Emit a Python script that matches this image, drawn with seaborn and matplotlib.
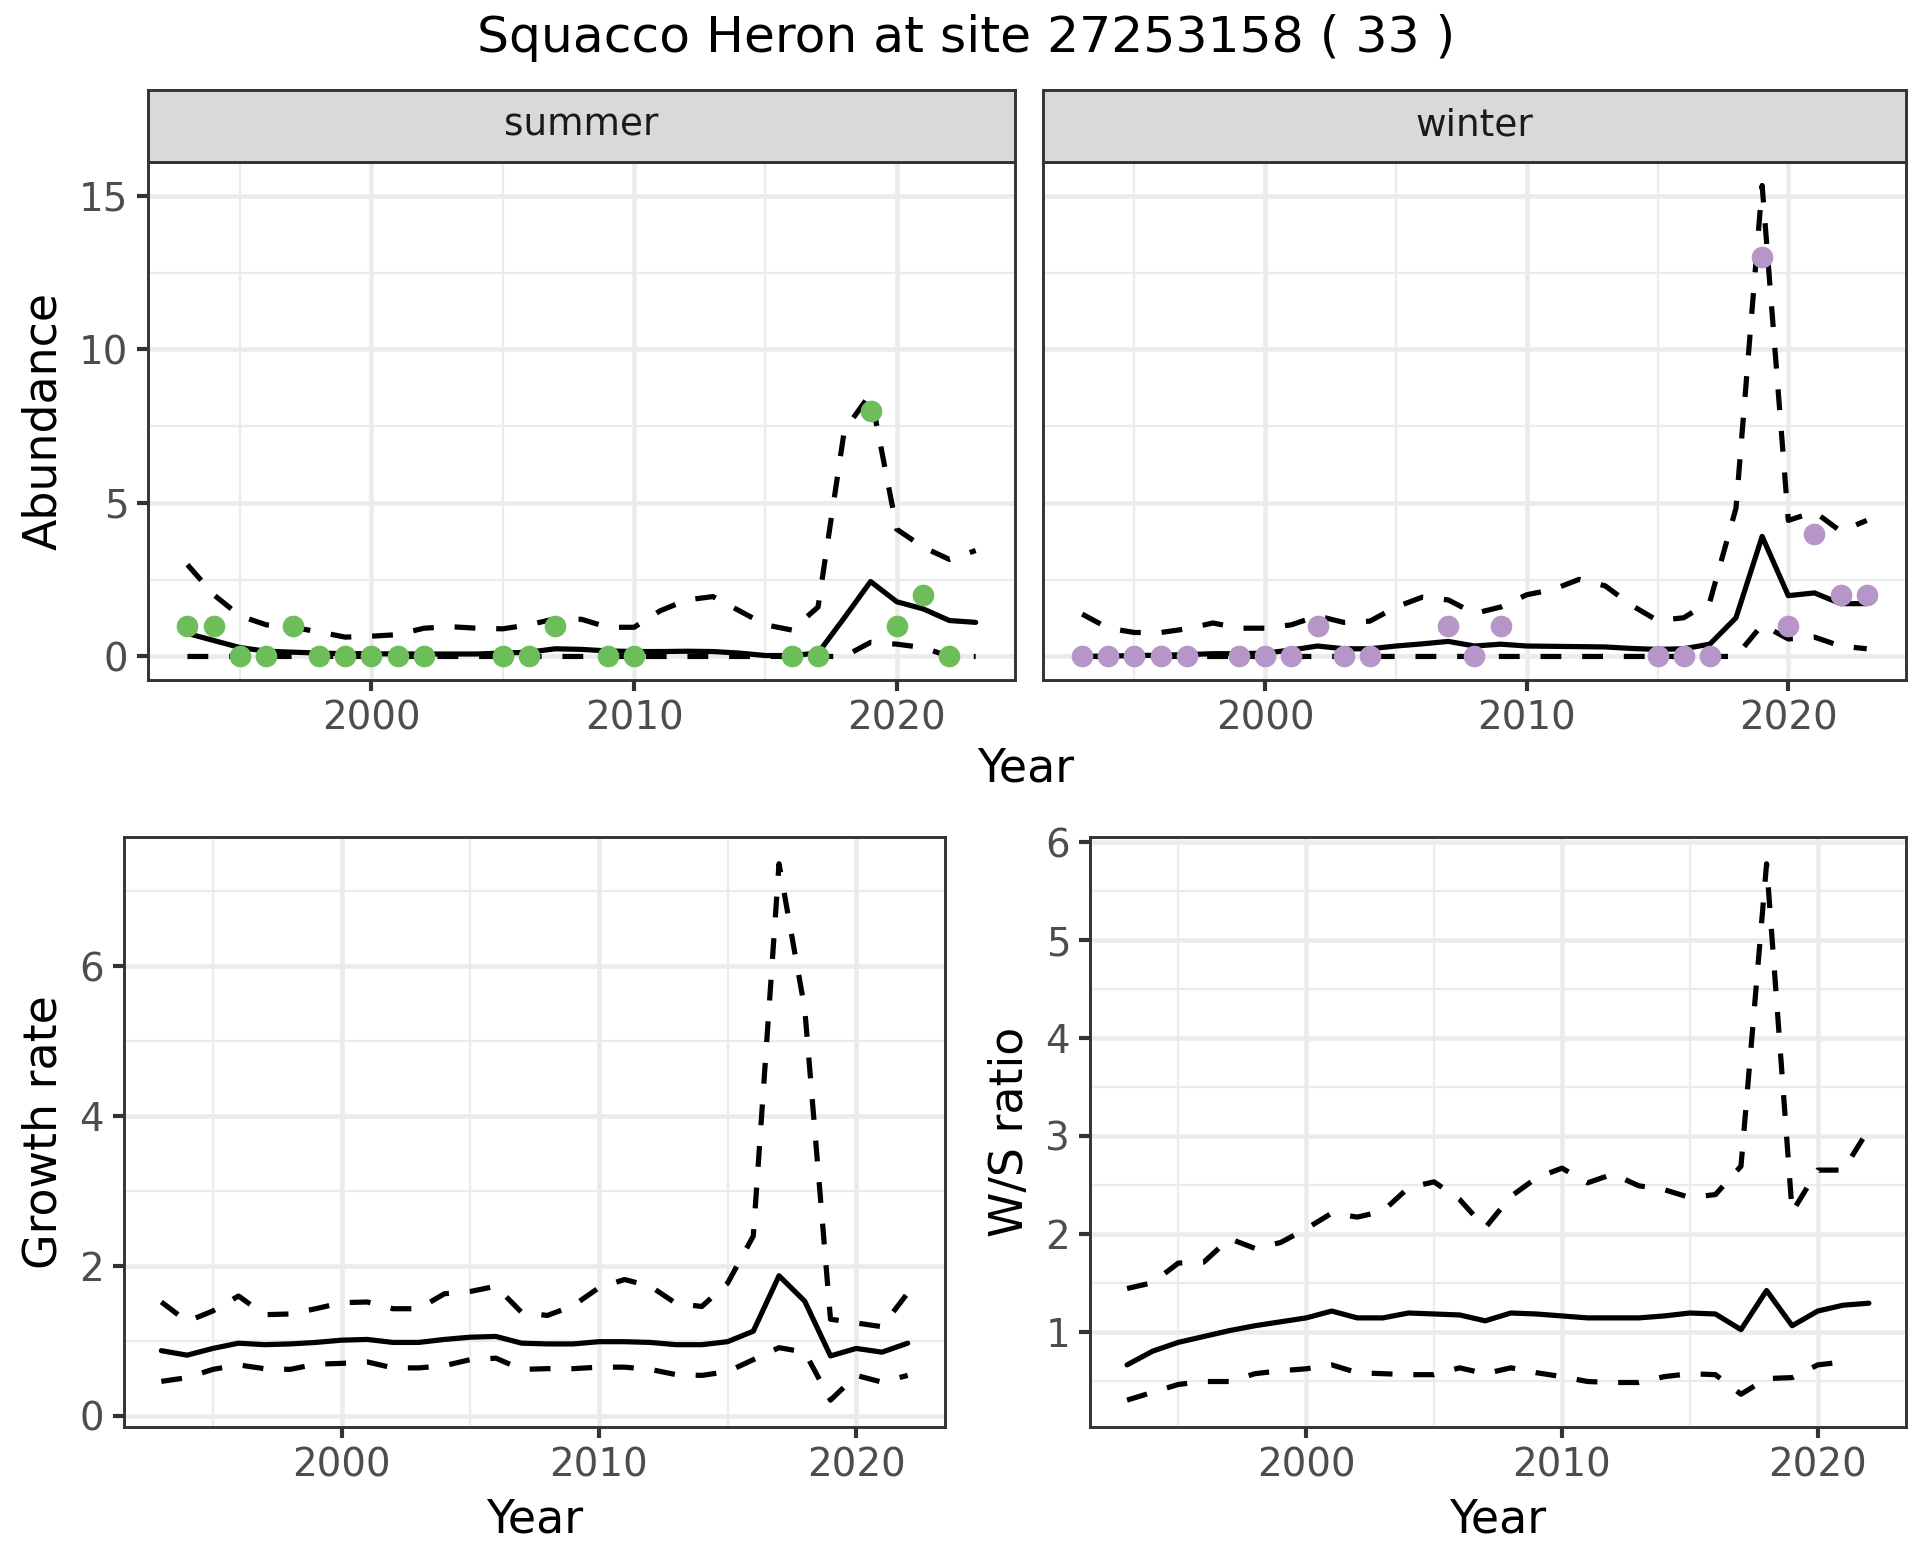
import numpy as np
import pandas as pd
import matplotlib
matplotlib.use("Agg")
import matplotlib.pyplot as plt
from matplotlib.ticker import MultipleLocator
import seaborn as sns

# ---- data ----
years_top = list(range(1993, 2024))
years_bottom = list(range(1993, 2023))

summer_mean = [0.75, 0.52, 0.29, 0.17, 0.14, 0.11, 0.09, 0.09, 0.08, 0.08, 0.08, 0.08, 0.11, 0.14, 0.25,
               0.23, 0.18, 0.16, 0.16, 0.17, 0.16, 0.11, 0.03, 0.03, 0.11, 1.26, 2.44, 1.78, 1.55, 1.17, 1.11]
summer_upper = [2.99, 2.01, 1.32, 1.03, 0.95, 0.80, 0.63, 0.66, 0.71, 0.92, 0.97, 0.92, 0.90, 1.03, 1.23,
                1.21, 0.95, 0.95, 1.49, 1.84, 1.95, 1.49, 1.03, 0.86, 1.61, 7.36, 8.56, 4.14, 3.56, 3.16, 3.45]
summer_lower = [0, 0, 0, 0, 0, 0, 0, 0, 0, 0, 0, 0, 0, 0, 0,
                0, 0, 0, 0, 0, 0, 0, 0, 0, 0, 0, 0.46, 0.40, 0.29, 0, 0]
summer_obs_years = [1993, 1994, 1995, 1996, 1997, 1998, 1999, 2000, 2001, 2002, 2005,
                    2006, 2007, 2009, 2010, 2016, 2017, 2019, 2020, 2021, 2022]
summer_obs = [1, 1, 0, 0, 1, 0, 0, 0, 0, 0, 0, 0, 1, 0, 0, 0, 0, 8, 1, 2, 0]

winter_mean = [0.0, 0.01, 0.03, 0.04, 0.06, 0.09, 0.09, 0.11, 0.21, 0.34, 0.25, 0.25, 0.34, 0.41, 0.49,
               0.34, 0.40, 0.34, 0.33, 0.32, 0.31, 0.26, 0.23, 0.25, 0.40, 1.26, 3.91, 1.98, 2.07, 1.72, 1.72]
winter_upper = [1.38, 0.92, 0.78, 0.78, 0.90, 1.09, 0.92, 0.92, 1.03, 1.32, 1.11, 1.15, 1.61, 1.93, 1.84,
                1.40, 1.61, 2.01, 2.18, 2.51, 2.30, 1.67, 1.17, 1.26, 1.78, 4.83, 15.34, 4.43, 4.71, 4.08, 4.43]
winter_lower = [0, 0, 0, 0, 0, 0, 0, 0, 0, 0, 0, 0, 0, 0, 0,
                0, 0, 0, 0, 0, 0, 0, 0, 0, 0, 0, 1.03, 0.57, 0.63, 0.34, 0.25]
winter_obs_years = [1993, 1994, 1995, 1996, 1997, 1999, 2000, 2001, 2002, 2003, 2004, 2007,
                    2008, 2009, 2015, 2016, 2017, 2019, 2020, 2021, 2022, 2023]
winter_obs = [0, 0, 0, 0, 0, 0, 0, 0, 1, 0, 0, 1, 0, 1, 0, 0, 0, 13, 1, 4, 2, 2]

growth_mean = [0.87, 0.81, 0.90, 0.97, 0.95, 0.96, 0.98, 1.01, 1.02, 0.98, 0.98, 1.02, 1.05, 1.06, 0.97,
               0.96, 0.96, 0.99, 0.99, 0.98, 0.95, 0.95, 0.99, 1.13, 1.87, 1.53, 0.80, 0.90, 0.85, 0.97]
growth_upper = [1.52, 1.26, 1.40, 1.60, 1.35, 1.36, 1.43, 1.51, 1.52, 1.43, 1.43, 1.63, 1.66, 1.73, 1.38,
                1.34, 1.47, 1.71, 1.82, 1.73, 1.50, 1.46, 1.77, 2.40, 7.37, 5.43, 1.29, 1.24, 1.19, 1.64]
growth_lower = [0.46, 0.51, 0.62, 0.68, 0.63, 0.62, 0.69, 0.70, 0.72, 0.64, 0.64, 0.67, 0.75, 0.77, 0.62,
                0.63, 0.63, 0.65, 0.65, 0.62, 0.55, 0.54, 0.59, 0.75, 0.91, 0.85, 0.21, 0.54, 0.45, 0.54]

ws_mean = [0.66, 0.80, 0.89, 0.95, 1.01, 1.06, 1.10, 1.14, 1.21, 1.14, 1.14, 1.19, 1.18, 1.17, 1.11,
           1.19, 1.18, 1.16, 1.14, 1.14, 1.14, 1.16, 1.19, 1.18, 1.02, 1.42, 1.06, 1.21, 1.27, 1.29]
ws_upper = [1.44, 1.50, 1.70, 1.71, 1.95, 1.85, 1.91, 2.05, 2.21, 2.17, 2.23, 2.47, 2.53, 2.35, 2.06,
            2.38, 2.57, 2.67, 2.52, 2.61, 2.49, 2.45, 2.37, 2.40, 2.69, 5.78, 2.22, 2.65, 2.65, 3.07]
ws_lower = [0.30, 0.38, 0.46, 0.49, 0.49, 0.57, 0.60, 0.62, 0.66, 0.58, 0.57, 0.56, 0.56, 0.63, 0.57,
            0.63, 0.58, 0.54, 0.49, 0.48, 0.48, 0.54, 0.57, 0.56, 0.36, 0.52, 0.53, 0.66, 0.69, np.nan]

summer_color = "#6DBE5A"
winter_color = "#B695C9"

sns.set_theme(style="white")
plt.rcParams["font.family"] = ["DejaVu Sans"]
plt.rcParams["text.color"] = "black"
plt.rcParams["axes.labelcolor"] = "black"

LW = 1.25
DASH = (0, (4, 4))
GRID = "#EBEBEB"
DARK = "#333333"
TICK_FS = 9.3
LABEL_FS = 11


def style_axes(ax, ymajor, yminor):
    ax.xaxis.set_major_locator(MultipleLocator(10))
    ax.xaxis.set_minor_locator(MultipleLocator(5))
    ax.yaxis.set_major_locator(MultipleLocator(ymajor))
    ax.yaxis.set_minor_locator(MultipleLocator(yminor))
    ax.grid(which="major", color=GRID, lw=1.1, zorder=0)
    ax.grid(which="minor", color=GRID, lw=0.55, zorder=0)
    ax.set_axisbelow(True)
    for sp in ax.spines.values():
        sp.set_color(DARK)
        sp.set_linewidth(0.7)
    ax.tick_params(which="major", length=2.75, width=1.0, color=DARK,
                   labelcolor="#4D4D4D", labelsize=TICK_FS, pad=2.0,
                   left=True, bottom=True)
    ax.tick_params(which="minor", length=0)


def draw_band(ax, years, mean, upper, lower):
    df = pd.DataFrame({"Year": years, "mean": mean, "upper": upper, "lower": lower})
    sns.lineplot(data=df, x="Year", y="mean", color="black", lw=LW, ax=ax, estimator=None)
    sns.lineplot(data=df, x="Year", y="upper", color="black", lw=LW, linestyle=DASH, ax=ax, estimator=None)
    sns.lineplot(data=df, x="Year", y="lower", color="black", lw=LW, linestyle=DASH, ax=ax, estimator=None)


fig = plt.figure(figsize=(6.4, 5.2), dpi=300)

# ---- top facets ----
ax_s = fig.add_axes([0.0771, 0.5641, 0.4516, 0.3321])
ax_w = fig.add_axes([0.5432, 0.5641, 0.4495, 0.3321], sharey=ax_s, sharex=ax_s)

for ax, yrs, m, u, l, oy, ov, col, lab in [
    (ax_s, years_top, summer_mean, summer_upper, summer_lower, summer_obs_years, summer_obs, summer_color, "summer"),
    (ax_w, years_top, winter_mean, winter_upper, winter_lower, winter_obs_years, winter_obs, winter_color, "winter"),
]:
    draw_band(ax, yrs, m, u, l)
    sns.scatterplot(x=oy, y=ov, color=col, s=27, linewidth=0, ax=ax, zorder=5)
    style_axes(ax, 5, 2.5)
    ax.set_xlabel("")
    ax.set_ylabel("")
    pos = ax.get_position()
    strip = fig.add_axes([pos.x0, pos.y1, pos.width, 0.0462])
    strip.set_facecolor("#D9D9D9")
    strip.set_xticks([])
    strip.set_yticks([])
    for sp in strip.spines.values():
        sp.set_color(DARK)
        sp.set_linewidth(0.7)
    strip.text(0.5, 0.5, lab, ha="center", va="center", fontsize=9, color="#1A1A1A",
               transform=strip.transAxes)

ax_s.margins(x=0.05, y=0.05)
ax_w.tick_params(labelleft=False, left=False)
ax_s.set_ylabel("Abundance", fontsize=LABEL_FS, labelpad=3)

fig.text(0.534, 0.507, "Year", ha="center", va="center", fontsize=LABEL_FS)

# ---- bottom panels ----
ax_g = fig.add_axes([0.0646, 0.0853, 0.4276, 0.3782])
ax_r = fig.add_axes([0.5677, 0.0853, 0.4250, 0.3782])

draw_band(ax_g, years_bottom, growth_mean, growth_upper, growth_lower)
style_axes(ax_g, 2, 1)
ax_g.set_ylabel("Growth rate", fontsize=LABEL_FS, labelpad=3)
ax_g.set_xlabel("Year", fontsize=LABEL_FS, labelpad=3)

draw_band(ax_r, years_bottom, ws_mean, ws_upper, ws_lower)
style_axes(ax_r, 1, 0.5)
ax_r.set_ylabel("W/S ratio", fontsize=LABEL_FS, labelpad=3)
ax_r.set_xlabel("Year", fontsize=LABEL_FS, labelpad=3)

fig.suptitle("Squacco Heron at site 27253158 ( 33 )", x=0.503, y=0.9756, va="center", fontsize=12.1)

fig.savefig("out.png", dpi=300, facecolor="white")
